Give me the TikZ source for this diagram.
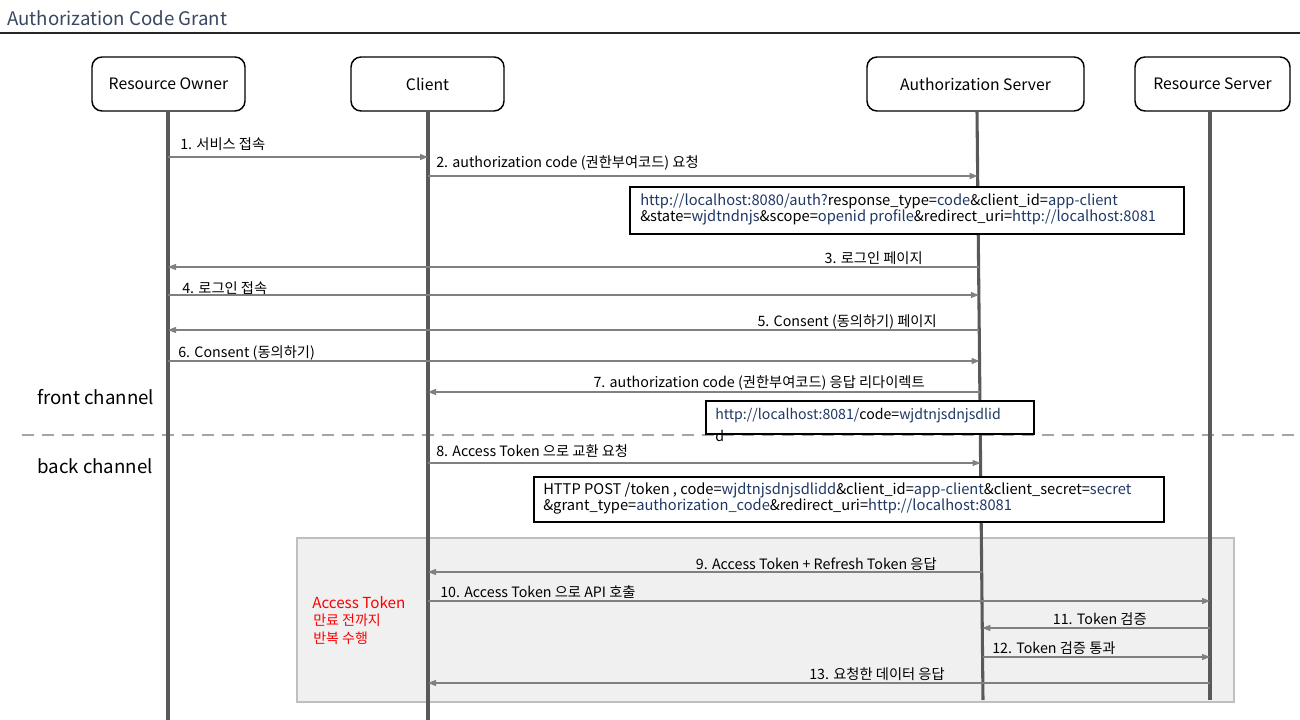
\documentclass[tikz,border=0pt]{standalone}
\usepackage{fontspec}
\setmainfont{Noto Sans CJK KR}
\usetikzlibrary{arrows.meta,calc}
\definecolor{life}{HTML}{595959}
\definecolor{msgc}{HTML}{808080}
\definecolor{val}{HTML}{203864}
\definecolor{titlec}{HTML}{3A4760}
\definecolor{zonefill}{HTML}{F0F0F0}
\definecolor{zoneline}{HTML}{BFBFBF}
\definecolor{dashc}{HTML}{A6A6A6}
\newcommand\vv[1]{\textcolor{val}{#1}}
\newcommand\msgline[3]{\draw[msg] ($(#1T)!{(#3-111)/589}!(#1B)$) -- ($(#2T)!{(#3-111)/589}!(#2B)$);}
\begin{document}
\begin{tikzpicture}[x=0.75pt,y=-0.75pt,
  actor/.style={draw=black, line width=1.1pt, rounded corners=7.5pt, minimum height=40.5pt, fill=white, font=\fontsize{11.8}{13}\selectfont, inner sep=0},
  lifeline/.style={draw=life, line width=2.3pt},
  msg/.style={draw=msgc, line width=0.8pt, -{Triangle[length=6pt,width=4.5pt]}},
  lbl/.style={font=\fontsize{10.7}{12}\selectfont, inner sep=0, text=black},
  urlbox/.style={draw=black, line width=1.4pt, fill=white, inner sep=0},
  urltext/.style={font=\fontsize{11}{12}\selectfont, inner sep=0, align=left, anchor=west},
  chan/.style={font=\fontsize{14}{16}\selectfont, inner sep=0, anchor=west},
  redtxt/.style={text=red, inner sep=0, anchor=west}
]
\useasboundingbox (0,0) rectangle (1300,720);
\fill[white] (0,0) rectangle (1300,720);

% title
\node[anchor=west, text=titlec, font=\fontsize{14}{16}\selectfont, inner sep=0] (title) at (7,18) {Authorization Code Grant};
\draw[line width=1.5pt, black!85] (0,33) -- (1300,33);

% repeat zone
\draw[draw=zoneline, fill=zonefill, line width=0.8pt] (297,538) rectangle (1234,702);

% actors
\node[actor, minimum width=114.75pt] (ro) at (168.5,84) {Resource Owner};
\node[actor, minimum width=114.75pt] (cl) at (427.5,84) {Client};
\node[actor, minimum width=162.75pt] (as) at (975.5,84) {Authorization Server};
\node[actor, minimum width=116.25pt] (rs) at (1212.5,84) {Resource Server};

% lifeline reference points
\coordinate (roT) at (168,111);  \coordinate (roB) at (168,700);
\coordinate (clT) at (428,111);  \coordinate (clB) at (428,700);
\coordinate (asT) at (977,111);  \coordinate (asB) at (983,700);
\coordinate (rsT) at (1210,111); \coordinate (rsB) at (1210,700);
\coordinate (roE) at (168,720);
\coordinate (clE) at (428,720);

% dashed separator
\draw[dashc, line width=2.2pt, dash pattern=on 9pt off 6pt] (22,435) -- (1300,435);

\draw[lifeline] (roT) -- (roE);
\draw[lifeline] (clT) -- (clE);
\draw[lifeline] (asT) -- (asB);
\draw[lifeline] (rsT) -- (rsB);

% channel labels
\node[chan] (front) at (37,397) {front channel};
\node[chan] (back) at (37,466) {back channel};

% messages
\msgline{ro}{cl}{157}
\node[lbl, anchor=west] (l1) at (180,144) {1. 서비스 접속};
\msgline{cl}{as}{176}
\node[lbl, anchor=west] (l2) at (436,163) {2. authorization code (권한부여코드) 요청};

\node[urlbox, minimum width=415.5pt, minimum height=35.25pt, anchor=north west] (u1) at (629,186) {};
\node[urltext] (u1t) at (640,209.5) {\vv{http://localhost:8080/auth?}response\_type=\vv{code}\&client\_id=\vv{app-client}\\
\&state=\vv{wjdtndnjs}\&scope=\vv{openid profile}\&redirect\_uri=\vv{http://localhost:8081}};

\msgline{as}{ro}{267}
\node[lbl, anchor=east] (l3) at (923,258) {3. 로그인 페이지};
\msgline{ro}{as}{295}
\node[lbl, anchor=west] (l4) at (182,288) {4. 로그인 접속};
\msgline{as}{ro}{330}
\node[lbl, anchor=east] (l5) at (937,322) {5. Consent (동의하기) 페이지};
\msgline{ro}{as}{361}
\node[lbl, anchor=west] (l6) at (178,353) {6. Consent (동의하기)};
\msgline{as}{cl}{392}
\node[lbl, anchor=east] (l7) at (925,383) {7. authorization code (권한부여코드) 응답 리다이렉트};

\node[urlbox, minimum width=246pt, minimum height=24.75pt, anchor=north west] (u2) at (705,400) {};
\node[urltext, font=\fontsize{10.6}{12}\selectfont] (u2t) at (715,416) {\vv{http://localhost:8081/}code=\vv{wjdtnjsdnjsdlid}};
\node[urltext, font=\fontsize{10.6}{12}\selectfont] (u2d) at (715,436) {d};

\msgline{cl}{as}{463}
\node[lbl, anchor=west] (l8) at (436,451) {8. Access Token 으로 교환 요청};

\node[urlbox, minimum width=472.5pt, minimum height=33.75pt, anchor=north west] (u3) at (533,476) {};
\node[urltext] (u3t) at (543,498.5) {HTTP POST /token , code=\vv{wjdtnjsdnjsdlidd}\&client\_id=\vv{app-client}\&client\_secret=\vv{secret}\\
\&grant\_type=\vv{authorization\_code}\&redirect\_uri=\vv{http://localhost:8081}};

\msgline{as}{cl}{572}
\node[lbl, anchor=east] (l9) at (937,564) {9. Access Token + Refresh Token 응답};
\msgline{cl}{rs}{601}
\node[lbl, anchor=west] (l10) at (440,592) {10. Access Token 으로 API 호출};
\msgline{rs}{as}{628}
\node[lbl, anchor=east] (l11) at (1147,619) {11. Token 검증};
\msgline{as}{rs}{657}
\node[lbl, anchor=west] (l12) at (992,648) {12. Token 검증 통과};
\msgline{rs}{cl}{683}
\node[lbl, anchor=east] (l13) at (945,674) {13. 요청한 데이터 응답};

% red note
\node[redtxt, font=\fontsize{11.4}{13}\selectfont] (r1) at (312,603) {Access Token};
\node[redtxt, font=\fontsize{10.5}{12}\selectfont] (r2) at (313,620) {만료 전까지};
\node[redtxt, font=\fontsize{10.5}{12}\selectfont] (r3) at (313,638) {반복 수행};
\end{tikzpicture}
\end{document}
